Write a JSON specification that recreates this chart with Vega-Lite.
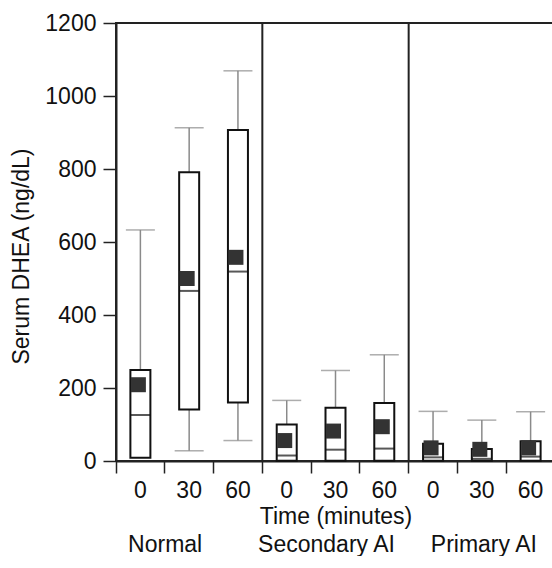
{
  "$schema": "https://vega.github.io/schema/vega-lite/v6.json",
  "width": 439,
  "height": 438,
  "padding": {"left": 10, "top": 12, "right": 0, "bottom": 0},
  "background": "white",
  "config": {
    "font": "Liberation Sans",
    "view": {"stroke": "#222", "strokeWidth": 2},
    "axis": {
      "domainColor": "#222",
      "domainWidth": 2,
      "tickColor": "#222",
      "tickWidth": 1.5,
      "labelColor": "#111",
      "titleColor": "#111",
      "labelFontSize": 23,
      "titleFontSize": 23,
      "titleFontWeight": "normal",
      "grid": false
    }
  },
  "layer": [
    {
      "data": {
        "values": [
          {"key": "Normal|0", "q1": 9, "median": 126, "q3": 249, "mean": 209, "lo": null, "hi": 633},
          {"key": "Normal|30", "q1": 141, "median": 466, "q3": 791, "mean": 500, "lo": 28, "hi": 913},
          {"key": "Normal|60", "q1": 160, "median": 519, "q3": 907, "mean": 558, "lo": 56, "hi": 1069},
          {"key": "Secondary AI|0", "q1": 1, "median": 15, "q3": 100, "mean": 56, "lo": null, "hi": 166},
          {"key": "Secondary AI|30", "q1": 1, "median": 31, "q3": 146, "mean": 82, "lo": null, "hi": 248},
          {"key": "Secondary AI|60", "q1": 1, "median": 34, "q3": 159, "mean": 94, "lo": null, "hi": 291},
          {"key": "Primary AI|0", "q1": 1, "median": 10, "q3": 47, "mean": 36, "lo": null, "hi": 136},
          {"key": "Primary AI|30", "q1": 1, "median": 6, "q3": 33, "mean": 32, "lo": null, "hi": 112},
          {"key": "Primary AI|60", "q1": 1, "median": 12, "q3": 54, "mean": 36, "lo": null, "hi": 135}
        ]
      },
      "encoding": {
        "x": {
          "field": "key",
          "type": "nominal",
          "sort": ["Normal|0", "Normal|30", "Normal|60", "Secondary AI|0", "Secondary AI|30", "Secondary AI|60", "Primary AI|0", "Primary AI|30", "Primary AI|60"],
          "scale": {"type": "band", "paddingInner": 0, "paddingOuter": 0},
          "axis": {
            "title": "Time (minutes)",
            "labelExpr": "split(datum.label, '|')[1]",
            "labelAngle": 0,
            "bandPosition": 0,
            "tickSize": 12,
            "labelPadding": 6,
            "titlePadding": 3
          }
        }
      },
      "layer": [
        {
          "mark": {"type": "rule", "color": "#8a8a8a", "strokeWidth": 1.5},
          "encoding": {
            "y": {
              "field": "q3",
              "type": "quantitative",
              "scale": {"domain": [0, 1200], "nice": false},
              "axis": {
                "title": "Serum DHEA (ng/dL)",
                "titleY": 233,
                "values": [0, 50, 100, 150, 200, 250, 300, 350, 400, 450, 500, 550, 600, 650, 700, 750, 800, 850, 900, 950, 1000, 1050, 1100, 1150, 1200],
                "labelExpr": "datum.value % 200 === 0 ? datum.value : ''",
                "tickSize": {"condition": {"test": "datum.value % 200 === 0", "value": 13}, "value": 7},
                "labelPadding": 7,
                "titlePadding": 11
              }
            },
            "y2": {"field": "hi"}
          }
        },
        {
          "transform": [{"filter": "datum.lo != null"}],
          "mark": {"type": "rule", "color": "#8a8a8a", "strokeWidth": 1.5},
          "encoding": {
            "y": {"field": "lo", "type": "quantitative"},
            "y2": {"field": "q1"}
          }
        },
        {
          "mark": {"type": "tick", "color": "#8a8a8a", "thickness": 1.5, "size": 29},
          "encoding": {"y": {"field": "hi", "type": "quantitative"}}
        },
        {
          "transform": [{"filter": "datum.lo != null"}],
          "mark": {"type": "tick", "color": "#8a8a8a", "thickness": 1.5, "size": 29},
          "encoding": {"y": {"field": "lo", "type": "quantitative"}}
        },
        {
          "mark": {"type": "bar", "size": 20, "fill": "white", "stroke": "#111", "strokeWidth": 2},
          "encoding": {
            "y": {"field": "q1", "type": "quantitative"},
            "y2": {"field": "q3"}
          }
        },
        {
          "mark": {"type": "tick", "color": "#111", "thickness": 2, "size": 20},
          "encoding": {"y": {"field": "median", "type": "quantitative"}}
        },
        {
          "mark": {"type": "point", "shape": "square", "filled": true, "size": 225, "color": "#333", "opacity": 1, "xOffset": -2},
          "encoding": {"y": {"field": "mean", "type": "quantitative"}}
        }
      ]
    },
    {
      "data": {"values": [{"group": "Normal"}, {"group": "Secondary AI"}, {"group": "Primary AI"}]},
      "mark": {"type": "rule", "color": "#222", "strokeWidth": 2},
      "encoding": {
        "x": {
          "field": "group",
          "type": "nominal",
          "sort": ["Normal", "Secondary AI", "Primary AI"],
          "bandPosition": 0,
          "scale": {"type": "band", "paddingInner": 0, "paddingOuter": 0},
          "axis": {
            "orient": "bottom",
            "title": null,
            "domain": false,
            "ticks": false,
            "labelAngle": 0,
            "labelPadding": 72,
            "labelOffset": {"condition": [{"test": "datum.value === 'Normal'", "value": -24}, {"test": "datum.value === 'Secondary AI'", "value": -9}], "value": 2}
          }
        }
      }
    }
  ],
  "resolve": {"scale": {"x": "independent"}, "axis": {"x": "independent"}}
}
